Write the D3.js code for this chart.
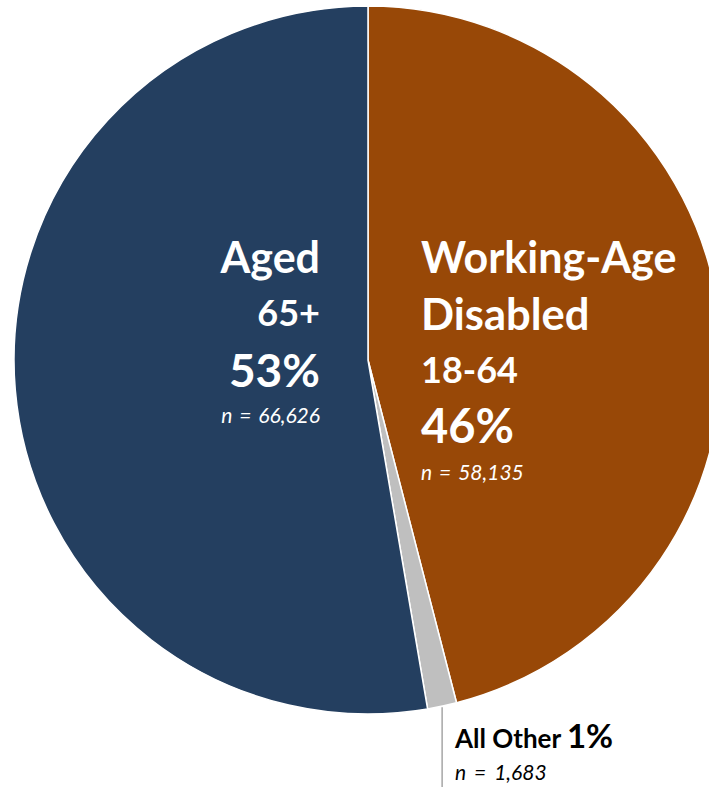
<!DOCTYPE html>
<html><head><meta charset="utf-8">
<script src="https://cdn.jsdelivr.net/npm/d3@7"></script>
<style>html,body{margin:0;padding:0;background:#fff;overflow:hidden}</style>
</head><body>
<svg id="c" width="709" height="787"></svg>
<script>
const categories = ["Working-Age Disabled", "All Other", "Aged"];
const counts = [58135, 1683, 66626];
const pctLabels = ["46%", "1%", "53%"];
const nLabels = ["n = 58,135", "n = 1,683", "n = 66,626"];
const colors = ["#984807", "#BFBFBF", "#243F60"];

const svg = d3.select("#c");
const cx = 368, cy = 360, R = 354;
const g = svg.append("g").attr("transform", `translate(${cx},${cy})`);
const pie = d3.pie().sort(null).value(d => d.v).startAngle(0).endAngle(2*Math.PI);
const data = pie(categories.map((c,i)=>({c, v:counts[i], i})));
const arc = d3.arc().innerRadius(0).outerRadius(R);
g.selectAll("path").data(data).join("path")
  .attr("d", arc).attr("fill", d => colors[d.data.i])
  .attr("stroke", "#fff").attr("stroke-width", 1.5).attr("stroke-linejoin","round");

// leader line for small slice
const s = data[1];
const mid = (s.startAngle + s.endAngle)/2;
const lx = R*Math.sin(mid), ly = -R*Math.cos(mid);
g.append("line").attr("x1", lx).attr("y1", ly+1).attr("x2", lx).attr("y2", 787-cy)
  .attr("stroke", "#A6A6A6").attr("stroke-width", 1.5);

const F = "Lato, 'Open Sans', sans-serif";
function t(x, y, txt, size, opts={}) {
  const el = svg.append("text").attr("x", x).attr("y", y).text(txt)
    .attr("font-family", F).attr("font-size", size)
    .attr("font-weight", opts.w || "bold")
    .attr("font-style", opts.i ? "italic" : "normal")
    .attr("fill", opts.fill || "#fff")
    .attr("text-anchor", opts.a || "start");
  if (opts.ws) el.attr("word-spacing", opts.ws);
  return el;
}
// Aged (right-aligned)
t(320, 273, "Aged", 43, {a:"end"});
t(320, 326, "65+", 36, {a:"end"});
t(320, 387, pctLabels[2], 46, {a:"end"});
t(320, 423, nLabels[2], 21, {a:"end", w:"normal", i:true, ws:2});
// Working-Age Disabled
t(421, 273, "Working-Age", 43);
t(421, 330, "Disabled", 43.5);
t(421, 383, "18-64", 36);
t(421, 443, pctLabels[0], 47);
t(421, 480, nLabels[0], 21, {w:"normal", i:true, ws:2});
// All Other
const ao = t(455, 748, "All Other ", 26, {fill:"#000"});
ao.append("tspan").attr("font-size", 33).text(pctLabels[1]);
t(455, 780, nLabels[1], 21, {w:"normal", i:true, fill:"#000", ws:3});
</script>
</body></html>
